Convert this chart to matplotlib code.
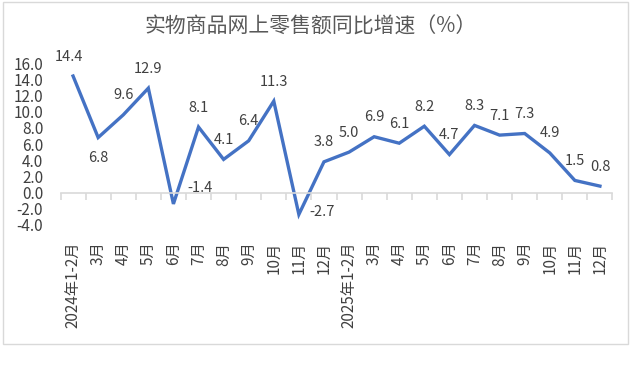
import matplotlib
matplotlib.use('Agg')
import matplotlib.pyplot as plt
from matplotlib.patches import Rectangle

plt.rcParams['font.family'] = ['Noto Sans CJK SC', 'DejaVu Sans']

# ---- datos ----
title = '实物商品网上零售额同比增速（%）'
months = ['2024年1-2月', '3月', '4月', '5月', '6月', '7月', '8月', '9月', '10月', '11月', '12月',
          '2025年1-2月', '3月', '4月', '5月', '6月', '7月', '8月', '9月', '10月', '11月', '12月']
growth = [14.4, 6.8, 9.6, 12.9, -1.4, 8.1, 4.1, 6.4, 11.3, -2.7, 3.8,
          5.0, 6.9, 6.1, 8.2, 4.7, 8.3, 7.1, 7.3, 4.9, 1.5, 0.8]
yticks = [-4, -2, 0, 2, 4, 6, 8, 10, 12, 14, 16]

# posición de etiquetas (offset en puntos), por defecto arriba
label_offset = {0: (-3, 14), 1: (0, -14.5), 4: (19, 11.5), 9: (16.5, 1.5)}

line_color = '#4472C4'
text_color = '#404040'
grid_color = '#D9D9D9'

fig = plt.figure(figsize=(6.33, 3.8), dpi=100)
ax = fig.add_axes([0.0956, 0.408, 0.872, 0.426])

x = list(range(len(growth)))
ax.plot(x, growth, '-', color=line_color, linewidth=2.4, solid_joinstyle='miter')

for i, v in enumerate(growth):
    dx, dy = label_offset.get(i, (0, 14))
    ax.annotate(f'{v:.1f}', (i, v), xytext=(dx, dy), textcoords='offset points',
                ha='center', va='center', fontsize=10.5, color=text_color)

ax.set_xlim(-0.5, len(growth) - 0.5)
ax.set_ylim(-4, 16)
ax.set_yticks(yticks)
ax.set_yticklabels([f'{t:.1f}' for t in yticks])
ax.tick_params(axis='y', length=0, pad=12.5, labelsize=11, labelcolor=text_color)

for s in ['top', 'right', 'left']:
    ax.spines[s].set_visible(False)
# eje de categorías en y=0 con marcas en los límites
ax.spines['bottom'].set_position(('data', 0))
ax.spines['bottom'].set_color(grid_color)
ax.spines['bottom'].set_linewidth(1.2)
ax.set_xticks([i - 0.5 for i in range(len(growth) + 1)], minor=True)
ax.set_xticks([])
ax.tick_params(axis='x', which='minor', length=5, width=1.2, color=grid_color, direction='out')

# etiquetas de categoría abajo
sec = ax.secondary_xaxis('bottom')
sec.set_xticks(x)
sec.set_xticklabels(months, rotation=90, va='top', ha='center')
sec.tick_params(length=0, pad=12, labelsize=11, labelcolor=text_color)
sec.spines['bottom'].set_visible(False)

fig.text(0.49, 0.929, title, ha='center', va='center', fontsize=15, color='#595959')

fig.patches.append(Rectangle((0.0047, 0.0947), 0.987, 0.9, transform=fig.transFigure,
                             fill=False, edgecolor=grid_color, linewidth=1))

fig.savefig('out.png', dpi=100)
